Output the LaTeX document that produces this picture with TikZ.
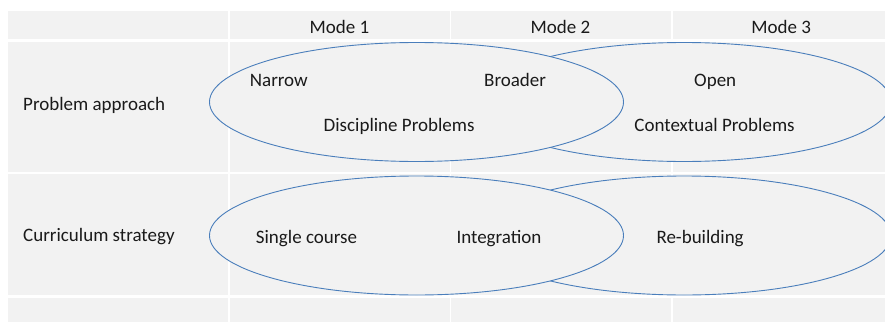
\documentclass[tikz,border=0pt]{standalone}
\usepackage{fontspec}
\setmainfont{Carlito}
\usepackage{tikz}
\usetikzlibrary{positioning, shapes.geometric}

\definecolor{cellgray}{HTML}{F2F2F2}
\definecolor{ovalblue}{HTML}{4A7EBB}
\definecolor{txtgray}{HTML}{1A1A1A}

\begin{document}
\begin{tikzpicture}[x=1pt, y=1pt,
		        cell/.style={fill=cellgray, rectangle, minimum width=220pt, inner sep=0pt, outer sep=0pt},
		        oval/.style={draw=ovalblue, fill=cellgray, ellipse, line width=0.9pt, minimum width=414pt, minimum height=119pt, inner sep=0pt},
		        txt/.style={anchor=base west, inner sep=0pt, text=txtgray, font=\fontsize{19pt}{23pt}\selectfont},
		        head/.style={txt, anchor=base},
		        node distance=1.5pt]

		        \useasboundingbox (0,0) rectangle (885,-321);
		        \fill[white] (0,0) rectangle (885,-321);
		        \clip (0,0) rectangle (885,-321);

		        % Table cells
		        \node (h0) [cell, minimum height=28.5pt, anchor=north west] at (8,-11) {};
		        \node (a0) [cell, minimum height=129pt, below=3pt of h0] {};
		        \node (b0) [cell, minimum height=121pt, below=2.5pt of a0] {};
		        \node (c0) [cell, minimum height=32pt, below=2.5pt of b0] {};
		        \foreach \i [count=\j from 0] in {1,2,3} {
		            \node (h\i) [cell, minimum height=28.5pt, right=of h\j] {};
		            \node (a\i) [cell, minimum height=129pt, right=of a\j] {};
		            \node (b\i) [cell, minimum height=121pt, right=of b\j] {};
		            \node (c\i) [cell, minimum height=32pt, right=of c\j] {};
		        }

		        % Ellipses
		        \node (pb) [oval] at (684,-102) {};
		        \node (pa) [oval] at (416.5,-102) {};
		        \node (cb) [oval] at (684,-235.5) {};
		        \node (ca) [oval] at (416.5,-235.5) {};

		        % Header
		        \node (m1) [head] at (339.5,-33.3) {Mode 1};
		        \node (m2) [head] at (560.5,-33.3) {Mode 2};
		        \node (m3) [head] at (781.2,-33.3) {Mode 3};

		        % Row labels
		        \node (prob) [txt] at (23,-110) {Problem approach};
		        \node (curr) [txt] at (23,-241.7) {Curriculum strategy};

		        % Texts in the ellipses
		        \node (narrow) [txt] at (249.7,-86) {Narrow};
		        \node (broader) [txt] at (484,-86) {Broader};
		        \node (open) [txt] at (694,-86) {Open};
		        \node (disc) [txt] at (323.5,-131.7) {Discipline Problems};
		        \node (cont) [txt] at (634.2,-131.7) {Contextual Problems};
		        \node (single) [txt] at (255.7,-243.3) {Single course};
		        \node (integ) [txt] at (456.3,-243.3) {Integration};
		        \node (rebuild) [txt] at (656.3,-243.3) {Re-building};
		    \end{tikzpicture}
\end{document}
